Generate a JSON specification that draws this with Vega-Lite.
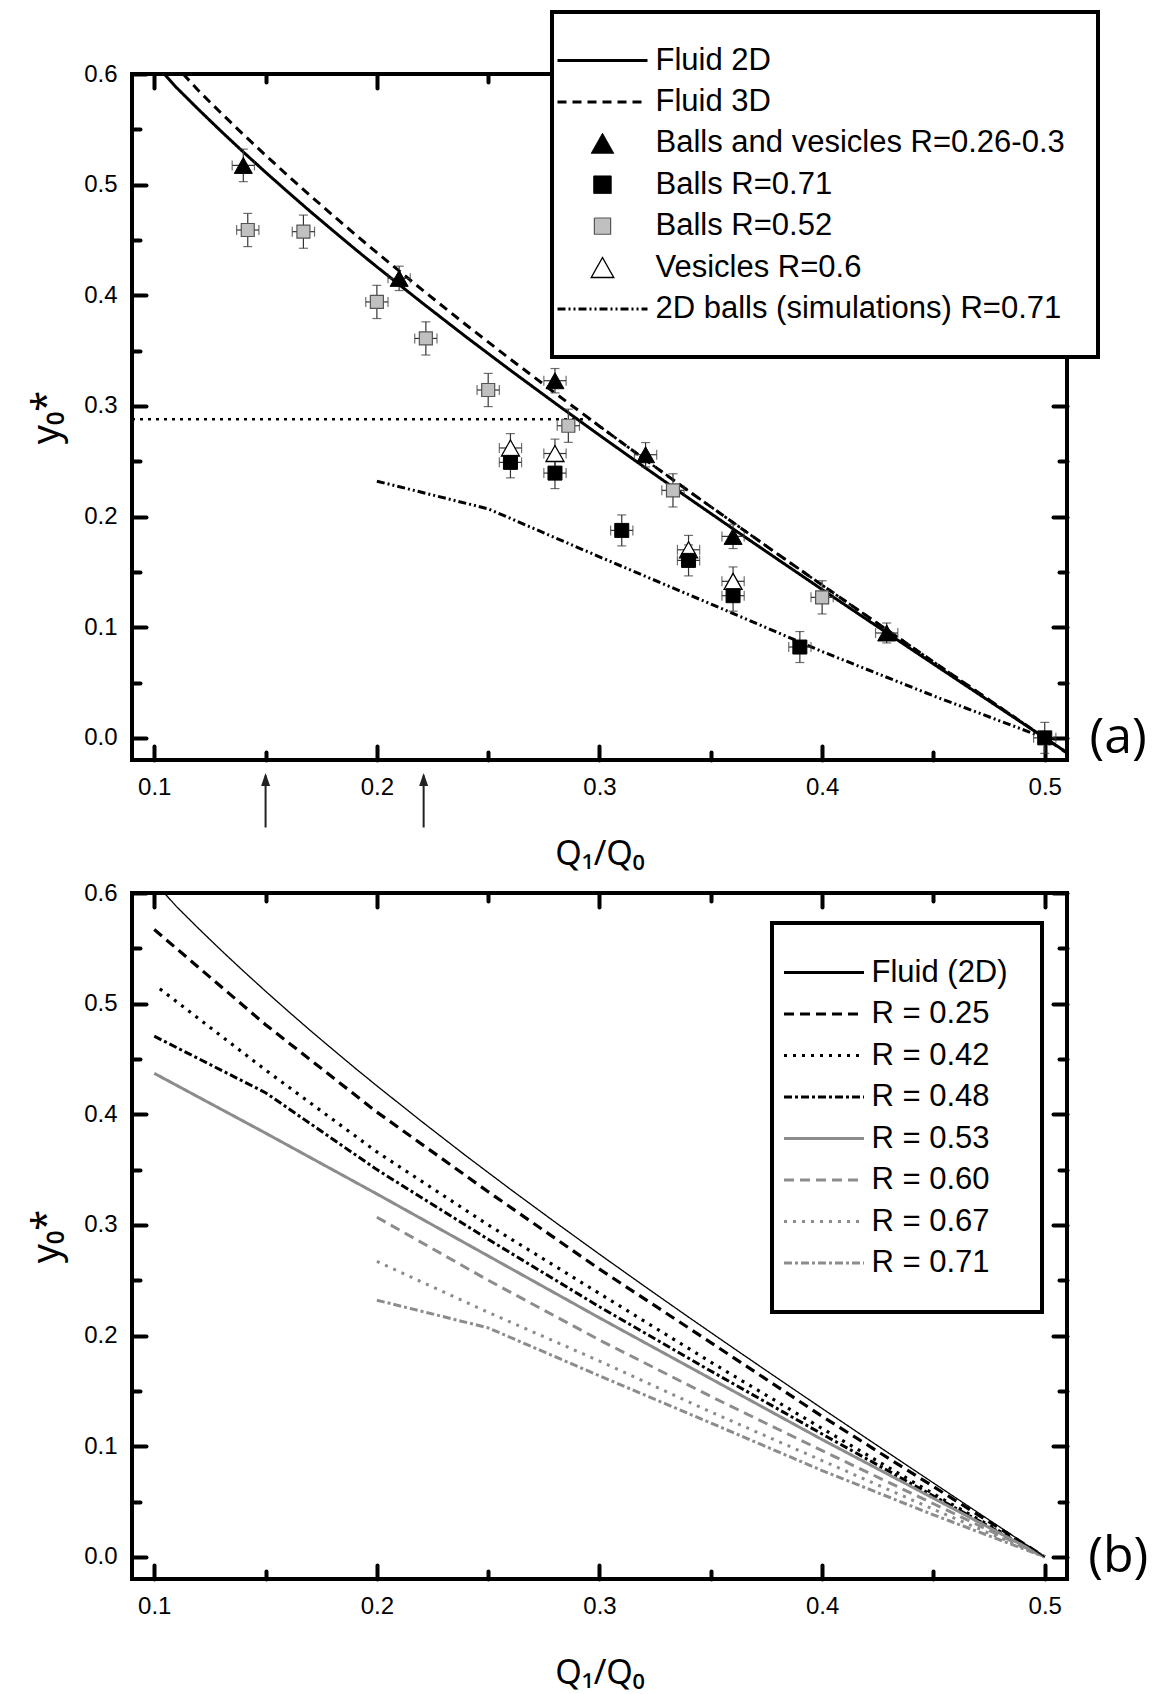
{
  "$schema": "https://vega.github.io/schema/vega-lite/v6.json",
  "background": "white",
  "padding": {"left": 26, "top": 8, "right": 0, "bottom": 0},
  "spacing": 6,
  "config": {
    "view": {"stroke": "#000000", "strokeWidth": 4},
    "axis": {"grid": false, "domain": false, "tickColor": "#000000", "tickWidth": 4, "tickCap": "round", "labelFont": "Liberation Sans", "labelFontSize": 24, "labelColor": "#000000", "titleFont": "Noto Sans", "titleFontWeight": "normal", "titleColor": "#000000", "labelFlush": false},
    "legend": {"strokeWidth": 4}
  },
  "resolve": {"scale": {"stroke": "independent", "strokeDash": "independent", "shape": "independent", "fill": "independent", "strokeWidth": "independent"}},
  "datasets": {
    "fluidA": [
      {"s": "Fluid 2D", "q": 0.1045, "y": 0.6}, {"s": "Fluid 2D", "q": 0.11, "y": 0.5877}, {"s": "Fluid 2D", "q": 0.12, "y": 0.5677}, {"s": "Fluid 2D", "q": 0.13, "y": 0.5483}, {"s": "Fluid 2D", "q": 0.14, "y": 0.5295}, {"s": "Fluid 2D", "q": 0.15, "y": 0.5112}, {"s": "Fluid 2D", "q": 0.16, "y": 0.4934}, {"s": "Fluid 2D", "q": 0.17, "y": 0.4759}, {"s": "Fluid 2D", "q": 0.18, "y": 0.4589}, {"s": "Fluid 2D", "q": 0.19, "y": 0.4421}, {"s": "Fluid 2D", "q": 0.2, "y": 0.4257}, {"s": "Fluid 2D", "q": 0.22, "y": 0.3937}, {"s": "Fluid 2D", "q": 0.24, "y": 0.3625}, {"s": "Fluid 2D", "q": 0.26, "y": 0.3322}, {"s": "Fluid 2D", "q": 0.28, "y": 0.3026}, {"s": "Fluid 2D", "q": 0.3, "y": 0.2735}, {"s": "Fluid 2D", "q": 0.32, "y": 0.2449}, {"s": "Fluid 2D", "q": 0.34, "y": 0.2167}, {"s": "Fluid 2D", "q": 0.36, "y": 0.1889}, {"s": "Fluid 2D", "q": 0.38, "y": 0.1614}, {"s": "Fluid 2D", "q": 0.4, "y": 0.1341}, {"s": "Fluid 2D", "q": 0.42, "y": 0.1071}, {"s": "Fluid 2D", "q": 0.44, "y": 0.0802}, {"s": "Fluid 2D", "q": 0.46, "y": 0.0534}, {"s": "Fluid 2D", "q": 0.48, "y": 0.0267}, {"s": "Fluid 2D", "q": 0.5, "y": 0.0}, {"s": "Fluid 2D", "q": 0.51, "y": -0.0133},
      {"s": "Fluid 3D", "q": 0.113, "y": 0.6}, {"s": "Fluid 3D", "q": 0.12, "y": 0.5847}, {"s": "Fluid 3D", "q": 0.13, "y": 0.5647}, {"s": "Fluid 3D", "q": 0.14, "y": 0.5454}, {"s": "Fluid 3D", "q": 0.15, "y": 0.5265}, {"s": "Fluid 3D", "q": 0.16, "y": 0.5082}, {"s": "Fluid 3D", "q": 0.17, "y": 0.4902}, {"s": "Fluid 3D", "q": 0.18, "y": 0.4727}, {"s": "Fluid 3D", "q": 0.19, "y": 0.4554}, {"s": "Fluid 3D", "q": 0.2, "y": 0.4385}, {"s": "Fluid 3D", "q": 0.22, "y": 0.4055}, {"s": "Fluid 3D", "q": 0.24, "y": 0.3734}, {"s": "Fluid 3D", "q": 0.26, "y": 0.3422}, {"s": "Fluid 3D", "q": 0.28, "y": 0.3117}, {"s": "Fluid 3D", "q": 0.3, "y": 0.2817}, {"s": "Fluid 3D", "q": 0.32, "y": 0.2522}, {"s": "Fluid 3D", "q": 0.34, "y": 0.2232}, {"s": "Fluid 3D", "q": 0.36, "y": 0.1946}, {"s": "Fluid 3D", "q": 0.38, "y": 0.1662}, {"s": "Fluid 3D", "q": 0.4, "y": 0.1381}, {"s": "Fluid 3D", "q": 0.42, "y": 0.1103}, {"s": "Fluid 3D", "q": 0.44, "y": 0.0826}, {"s": "Fluid 3D", "q": 0.46, "y": 0.055}, {"s": "Fluid 3D", "q": 0.48, "y": 0.0275}, {"s": "Fluid 3D", "q": 0.5, "y": 0.0}, {"s": "Fluid 3D", "q": 0.51, "y": -0.0137}
    ],
    "simA": [
      {"s": "2D balls (simulations) R=0.71", "q": 0.2, "y": 0.232}, {"s": "2D balls (simulations) R=0.71", "q": 0.25, "y": 0.207}, {"s": "2D balls (simulations) R=0.71", "q": 0.3, "y": 0.1636}, {"s": "2D balls (simulations) R=0.71", "q": 0.35, "y": 0.121}, {"s": "2D balls (simulations) R=0.71", "q": 0.4, "y": 0.078}, {"s": "2D balls (simulations) R=0.71", "q": 0.45, "y": 0.038}, {"s": "2D balls (simulations) R=0.71", "q": 0.5, "y": 0.0}
    ],
    "capA": [
      {"q": 0.09, "y": 0.288}, {"q": 0.296, "y": 0.288}, {"q": 0.3, "y": 0.2817}, {"q": 0.32, "y": 0.2522}, {"q": 0.34, "y": 0.2232}, {"q": 0.36, "y": 0.1946}, {"q": 0.38, "y": 0.1662}, {"q": 0.4, "y": 0.1381}, {"q": 0.42, "y": 0.1103}, {"q": 0.44, "y": 0.0826}, {"q": 0.46, "y": 0.055}, {"q": 0.48, "y": 0.0275}, {"q": 0.5, "y": 0.0}
    ],
    "ptsA": [
      {"s": "Vesicles R=0.6", "x": 0.26, "y": 0.262, "ex": 0.005, "ey": 0.013},
      {"s": "Vesicles R=0.6", "x": 0.28, "y": 0.257, "ex": 0.005, "ey": 0.013},
      {"s": "Vesicles R=0.6", "x": 0.34, "y": 0.17, "ex": 0.005, "ey": 0.013},
      {"s": "Vesicles R=0.6", "x": 0.36, "y": 0.1415, "ex": 0.005, "ey": 0.013},
      {"s": "Balls R=0.52", "x": 0.142, "y": 0.459, "ex": 0.005, "ey": 0.015},
      {"s": "Balls R=0.52", "x": 0.167, "y": 0.4575, "ex": 0.005, "ey": 0.015},
      {"s": "Balls R=0.52", "x": 0.2, "y": 0.394, "ex": 0.005, "ey": 0.015},
      {"s": "Balls R=0.52", "x": 0.222, "y": 0.361, "ex": 0.005, "ey": 0.015},
      {"s": "Balls R=0.52", "x": 0.25, "y": 0.3144, "ex": 0.005, "ey": 0.015},
      {"s": "Balls R=0.52", "x": 0.286, "y": 0.2821, "ex": 0.005, "ey": 0.015},
      {"s": "Balls R=0.52", "x": 0.333, "y": 0.2237, "ex": 0.005, "ey": 0.015},
      {"s": "Balls R=0.52", "x": 0.4, "y": 0.127, "ex": 0.005, "ey": 0.015},
      {"s": "Balls R=0.71", "x": 0.26, "y": 0.249, "ex": 0.005, "ey": 0.014},
      {"s": "Balls R=0.71", "x": 0.28, "y": 0.2393, "ex": 0.005, "ey": 0.014},
      {"s": "Balls R=0.71", "x": 0.31, "y": 0.1875, "ex": 0.005, "ey": 0.014},
      {"s": "Balls R=0.71", "x": 0.34, "y": 0.1604, "ex": 0.005, "ey": 0.014},
      {"s": "Balls R=0.71", "x": 0.36, "y": 0.1285, "ex": 0.005, "ey": 0.014},
      {"s": "Balls R=0.71", "x": 0.39, "y": 0.0821, "ex": 0.005, "ey": 0.014},
      {"s": "Balls R=0.71", "x": 0.5, "y": 0.0, "ex": 0.005, "ey": 0.014},
      {"s": "Balls and vesicles R=0.26-0.3", "x": 0.14, "y": 0.5174, "ex": 0.005, "ey": 0.0147},
      {"s": "Balls and vesicles R=0.26-0.3", "x": 0.21, "y": 0.4153, "ex": 0.005, "ey": 0.011},
      {"s": "Balls and vesicles R=0.26-0.3", "x": 0.28, "y": 0.3228, "ex": 0.005, "ey": 0.011},
      {"s": "Balls and vesicles R=0.26-0.3", "x": 0.3207, "y": 0.2559, "ex": 0.005, "ey": 0.011},
      {"s": "Balls and vesicles R=0.26-0.3", "x": 0.36, "y": 0.1821, "ex": 0.005, "ey": 0.011},
      {"s": "Balls and vesicles R=0.26-0.3", "x": 0.429, "y": 0.0948, "ex": 0.005, "ey": 0.009}
    ],
    "arrows": [{"q": 0.15}, {"q": 0.221}],
    "linesB": [
      {"s": "Fluid (2D)", "q": 0.1045, "y": 0.6}, {"s": "Fluid (2D)", "q": 0.11, "y": 0.5877}, {"s": "Fluid (2D)", "q": 0.12, "y": 0.5677}, {"s": "Fluid (2D)", "q": 0.13, "y": 0.5483}, {"s": "Fluid (2D)", "q": 0.14, "y": 0.5295}, {"s": "Fluid (2D)", "q": 0.15, "y": 0.5112}, {"s": "Fluid (2D)", "q": 0.16, "y": 0.4934}, {"s": "Fluid (2D)", "q": 0.17, "y": 0.4759}, {"s": "Fluid (2D)", "q": 0.18, "y": 0.4589}, {"s": "Fluid (2D)", "q": 0.19, "y": 0.4421}, {"s": "Fluid (2D)", "q": 0.2, "y": 0.4257}, {"s": "Fluid (2D)", "q": 0.22, "y": 0.3937}, {"s": "Fluid (2D)", "q": 0.24, "y": 0.3625}, {"s": "Fluid (2D)", "q": 0.26, "y": 0.3322}, {"s": "Fluid (2D)", "q": 0.28, "y": 0.3026}, {"s": "Fluid (2D)", "q": 0.3, "y": 0.2735}, {"s": "Fluid (2D)", "q": 0.32, "y": 0.2449}, {"s": "Fluid (2D)", "q": 0.34, "y": 0.2167}, {"s": "Fluid (2D)", "q": 0.36, "y": 0.1889}, {"s": "Fluid (2D)", "q": 0.38, "y": 0.1614}, {"s": "Fluid (2D)", "q": 0.4, "y": 0.1341}, {"s": "Fluid (2D)", "q": 0.42, "y": 0.1071}, {"s": "Fluid (2D)", "q": 0.44, "y": 0.0802}, {"s": "Fluid (2D)", "q": 0.46, "y": 0.0534}, {"s": "Fluid (2D)", "q": 0.48, "y": 0.0267}, {"s": "Fluid (2D)", "q": 0.5, "y": 0.0},
      {"s": "R = 0.25", "q": 0.1, "y": 0.567}, {"s": "R = 0.25", "q": 0.15, "y": 0.481}, {"s": "R = 0.25", "q": 0.2, "y": 0.402}, {"s": "R = 0.25", "q": 0.25, "y": 0.33}, {"s": "R = 0.25", "q": 0.3, "y": 0.26}, {"s": "R = 0.25", "q": 0.35, "y": 0.1937}, {"s": "R = 0.25", "q": 0.4, "y": 0.127}, {"s": "R = 0.25", "q": 0.45, "y": 0.0635}, {"s": "R = 0.25", "q": 0.5, "y": 0.0},
      {"s": "R = 0.42", "q": 0.1025, "y": 0.5134}, {"s": "R = 0.42", "q": 0.15, "y": 0.44}, {"s": "R = 0.42", "q": 0.2, "y": 0.366}, {"s": "R = 0.42", "q": 0.25, "y": 0.3}, {"s": "R = 0.42", "q": 0.3, "y": 0.238}, {"s": "R = 0.42", "q": 0.35, "y": 0.176}, {"s": "R = 0.42", "q": 0.4, "y": 0.116}, {"s": "R = 0.42", "q": 0.45, "y": 0.057}, {"s": "R = 0.42", "q": 0.5, "y": 0.0},
      {"s": "R = 0.48", "q": 0.1, "y": 0.4706}, {"s": "R = 0.48", "q": 0.15, "y": 0.4195}, {"s": "R = 0.48", "q": 0.2, "y": 0.35}, {"s": "R = 0.48", "q": 0.25, "y": 0.287}, {"s": "R = 0.48", "q": 0.3, "y": 0.226}, {"s": "R = 0.48", "q": 0.35, "y": 0.168}, {"s": "R = 0.48", "q": 0.4, "y": 0.111}, {"s": "R = 0.48", "q": 0.45, "y": 0.055}, {"s": "R = 0.48", "q": 0.5, "y": 0.0},
      {"s": "R = 0.53", "q": 0.1, "y": 0.437}, {"s": "R = 0.53", "q": 0.15, "y": 0.383}, {"s": "R = 0.53", "q": 0.2, "y": 0.328}, {"s": "R = 0.53", "q": 0.25, "y": 0.272}, {"s": "R = 0.53", "q": 0.3, "y": 0.216}, {"s": "R = 0.53", "q": 0.35, "y": 0.161}, {"s": "R = 0.53", "q": 0.4, "y": 0.106}, {"s": "R = 0.53", "q": 0.45, "y": 0.053}, {"s": "R = 0.53", "q": 0.5, "y": 0.0},
      {"s": "R = 0.60", "q": 0.2, "y": 0.307}, {"s": "R = 0.60", "q": 0.25, "y": 0.25}, {"s": "R = 0.60", "q": 0.3, "y": 0.196}, {"s": "R = 0.60", "q": 0.35, "y": 0.145}, {"s": "R = 0.60", "q": 0.4, "y": 0.096}, {"s": "R = 0.60", "q": 0.45, "y": 0.048}, {"s": "R = 0.60", "q": 0.5, "y": 0.0},
      {"s": "R = 0.67", "q": 0.2, "y": 0.267}, {"s": "R = 0.67", "q": 0.25, "y": 0.221}, {"s": "R = 0.67", "q": 0.3, "y": 0.177}, {"s": "R = 0.67", "q": 0.35, "y": 0.131}, {"s": "R = 0.67", "q": 0.4, "y": 0.087}, {"s": "R = 0.67", "q": 0.45, "y": 0.043}, {"s": "R = 0.67", "q": 0.5, "y": 0.0},
      {"s": "R = 0.71", "q": 0.2, "y": 0.232}, {"s": "R = 0.71", "q": 0.25, "y": 0.207}, {"s": "R = 0.71", "q": 0.3, "y": 0.1636}, {"s": "R = 0.71", "q": 0.35, "y": 0.121}, {"s": "R = 0.71", "q": 0.4, "y": 0.078}, {"s": "R = 0.71", "q": 0.45, "y": 0.038}, {"s": "R = 0.71", "q": 0.5, "y": 0.0}
    ]
  },
  "vconcat": [
    {
      "width": 935,
      "height": 686,
      "resolve": {"axis": {"x": "independent", "y": "independent"}},
      "layer": [
        {
          "data": {"name": "fluidA"},
          "mark": {"type": "line", "strokeCap": "butt"},
          "encoding": {
            "x": {"field": "q", "type": "quantitative", "scale": {"domain": [0.09, 0.51], "nice": false, "zero": false}, "axis": {"orient": "bottom", "values": [0.1, 0.2, 0.3, 0.4, 0.5], "format": ".1f", "tickSize": 14, "offset": -14, "labelPadding": 15, "title": "Q₁/Q₀", "titleFontSize": 34, "titlePadding": 38}},
            "y": {"field": "y", "type": "quantitative", "scale": {"domain": [-0.02, 0.6], "nice": false, "zero": false}, "axis": {"orient": "left", "values": [0, 0.1, 0.2, 0.3, 0.4, 0.5, 0.6], "format": ".1f", "tickSize": 14, "offset": -14, "labelPadding": 15, "title": "y₀*", "titleFontSize": 38, "titlePadding": 17}},
            "stroke": {"field": "s", "type": "nominal", "scale": {"domain": ["Fluid 2D", "Fluid 3D", "Balls and vesicles R=0.26-0.3", "Balls R=0.71", "Balls R=0.52", "Vesicles R=0.6", "2D balls (simulations) R=0.71"], "range": ["#000000", "#000000", "#000000", "#000000", "#555555", "#000000", "#000000"]}, "legend": {"orient": "none", "legendX": 420, "legendY": -62, "title": null, "padding": 33, "strokeColor": "#000000", "fillColor": "#ffffff", "labelFont": "Liberation Sans", "labelFontSize": 31, "labelColor": "#000000", "symbolSize": 6.25, "symbolOffset": 2, "labelOffset": 37.5, "rowPadding": 9.4, "labelLimit": 0}},
            "strokeDash": {"field": "s", "type": "nominal", "scale": {"domain": ["Fluid 2D", "Fluid 3D", "Balls and vesicles R=0.26-0.3", "Balls R=0.71", "Balls R=0.52", "Vesicles R=0.6", "2D balls (simulations) R=0.71"], "range": [[1, 0], [9, 6], [1, 0], [1, 0], [1, 0], [1, 0], [8, 3, 2, 3, 2, 3]]}},
            "strokeWidth": {"field": "s", "type": "nominal", "scale": {"type": "ordinal", "domain": ["Fluid 2D", "Fluid 3D", "Balls and vesicles R=0.26-0.3", "Balls R=0.71", "Balls R=0.52", "Vesicles R=0.6", "2D balls (simulations) R=0.71"], "range": [3, 3, 1, 1, 1.2, 1.3, 3]}}
          }
        },
        {
          "data": {"name": "simA"},
          "mark": {"type": "line", "strokeCap": "butt"},
          "encoding": {
            "x": {"field": "q", "type": "quantitative", "axis": {"orient": "bottom", "values": [0.15, 0.25, 0.35, 0.45], "tickSize": 8, "offset": -8, "labels": false, "title": null}},
            "y": {"field": "y", "type": "quantitative", "axis": {"orient": "left", "values": [0.05, 0.15, 0.25, 0.35, 0.45, 0.55], "tickSize": 8, "offset": -8, "labels": false, "title": null}},
            "stroke": {"field": "s", "type": "nominal"},
            "strokeDash": {"field": "s", "type": "nominal"},
            "strokeWidth": {"field": "s", "type": "nominal", "scale": {"type": "ordinal", "domain": ["Fluid 2D", "Fluid 3D", "Balls and vesicles R=0.26-0.3", "Balls R=0.71", "Balls R=0.52", "Vesicles R=0.6", "2D balls (simulations) R=0.71"], "range": [3, 3, 1, 1, 1.2, 1.3, 3]}}
          }
        },
        {
          "data": {"name": "capA"},
          "mark": {"type": "line", "color": "#000000", "strokeWidth": 2.6, "strokeDash": [3, 5], "strokeCap": "butt"},
          "encoding": {
            "x": {"field": "q", "type": "quantitative", "axis": {"orient": "top", "values": [0.1, 0.2, 0.3, 0.4, 0.5], "tickSize": 14, "offset": -14, "labels": false, "title": null}},
            "y": {"field": "y", "type": "quantitative", "axis": {"orient": "right", "values": [0, 0.1, 0.2, 0.3, 0.4, 0.5, 0.6], "tickSize": 14, "offset": -14, "labels": false, "title": null}}
          }
        },
        {
          "data": {"name": "ptsA"},
          "mark": {"type": "errorbar", "color": "#333333", "ticks": {"size": 9, "thickness": 1.2, "color": "#333333"}, "rule": {"strokeWidth": 1.2, "color": "#333333"}},
          "encoding": {
            "x": {"field": "x", "type": "quantitative", "axis": null},
            "y": {"field": "y", "type": "quantitative", "axis": null},
            "yError": {"field": "ey"}
          }
        },
        {
          "data": {"name": "ptsA"},
          "mark": {"type": "errorbar", "color": "#333333", "ticks": {"size": 10, "thickness": 1.2, "color": "#333333"}, "rule": {"strokeWidth": 1.2, "color": "#333333"}},
          "encoding": {
            "y": {"field": "y", "type": "quantitative", "axis": null},
            "x": {"field": "x", "type": "quantitative", "axis": null},
            "xError": {"field": "ex"}
          }
        },
        {
          "data": {"name": "ptsA"},
          "mark": {"type": "point", "size": 4, "opacity": 1},
          "encoding": {
            "x": {"field": "x", "type": "quantitative", "axis": {"orient": "top", "values": [0.15, 0.25, 0.35, 0.45], "tickSize": 8, "offset": -8, "labels": false, "title": null}},
            "y": {"field": "y", "type": "quantitative", "axis": {"orient": "right", "values": [0.05, 0.15, 0.25, 0.35, 0.45, 0.55], "tickSize": 8, "offset": -8, "labels": false, "title": null}},
            "shape": {"field": "s", "type": "nominal", "scale": {"domain": ["Fluid 2D", "Fluid 3D", "Balls and vesicles R=0.26-0.3", "Balls R=0.71", "Balls R=0.52", "Vesicles R=0.6", "2D balls (simulations) R=0.71"], "range": ["M-36,0H36", "M-36,0H36", "M0,-8L9,8H-9Z", "M-7,-7H7V7H-7Z", "M-6.5,-6.5H6.5V6.5H-6.5Z", "M0,-8L9,8H-9Z", "M-36,0H36"]}},
            "fill": {"field": "s", "type": "nominal", "scale": {"domain": ["Fluid 2D", "Fluid 3D", "Balls and vesicles R=0.26-0.3", "Balls R=0.71", "Balls R=0.52", "Vesicles R=0.6", "2D balls (simulations) R=0.71"], "range": ["transparent", "transparent", "#000000", "#000000", "#c0c0c0", "#ffffff", "transparent"]}},
            "stroke": {"field": "s", "type": "nominal"},
            "strokeWidth": {"field": "s", "type": "nominal", "scale": {"type": "ordinal", "domain": ["Fluid 2D", "Fluid 3D", "Balls and vesicles R=0.26-0.3", "Balls R=0.71", "Balls R=0.52", "Vesicles R=0.6", "2D balls (simulations) R=0.71"], "range": [3, 3, 1, 1, 1.2, 1.3, 3]}}
          }
        },
        {
          "data": {"name": "arrows"},
          "mark": {"type": "rule", "strokeWidth": 2, "color": "#222222"},
          "encoding": {
            "x": {"field": "q", "type": "quantitative", "axis": null},
            "y": {"datum": -0.034, "type": "quantitative", "axis": null},
            "y2": {"datum": -0.081}
          }
        },
        {
          "data": {"name": "arrows"},
          "mark": {"type": "point", "shape": "M0,0L4.5,13L-4.5,13Z", "size": 4, "filled": true, "color": "#222222", "opacity": 1},
          "encoding": {
            "x": {"field": "q", "type": "quantitative", "axis": null},
            "y": {"datum": -0.0317, "type": "quantitative", "axis": null}
          }
        },
        {
          "data": {"values": [{}]},
          "mark": {"type": "text", "text": "(a)", "font": "Open Sans", "fontSize": 50, "align": "center", "baseline": "middle", "color": "#000000"},
          "encoding": {
            "x": {"datum": 0.533, "type": "quantitative", "axis": null},
            "y": {"datum": 0.0, "type": "quantitative", "axis": null}
          }
        }
      ]
    },
    {
      "width": 935,
      "height": 686,
      "resolve": {"axis": {"x": "independent", "y": "independent"}},
      "layer": [
        {
          "data": {"name": "linesB"},
          "transform": [{"filter": {"field": "s", "oneOf": ["R = 0.25", "R = 0.42"]}}],
          "mark": {"type": "line", "strokeWidth": 3.2, "strokeCap": "butt"},
          "encoding": {
            "x": {"field": "q", "type": "quantitative", "scale": {"domain": [0.09, 0.51], "nice": false, "zero": false}, "axis": {"orient": "bottom", "values": [0.1, 0.2, 0.3, 0.4, 0.5], "format": ".1f", "tickSize": 14, "offset": -14, "labelPadding": 15, "title": "Q₁/Q₀", "titleFontSize": 34, "titlePadding": 38}},
            "y": {"field": "y", "type": "quantitative", "scale": {"domain": [-0.02, 0.6], "nice": false, "zero": false}, "axis": {"orient": "left", "values": [0, 0.1, 0.2, 0.3, 0.4, 0.5, 0.6], "format": ".1f", "tickSize": 14, "offset": -14, "labelPadding": 15, "title": "y₀*", "titleFontSize": 38, "titlePadding": 17}},
            "stroke": {"field": "s", "type": "nominal", "scale": {"domain": ["Fluid (2D)", "R = 0.25", "R = 0.42", "R = 0.48", "R = 0.53", "R = 0.60", "R = 0.67", "R = 0.71"], "range": ["#000000", "#000000", "#000000", "#000000", "#8c8c8c", "#8c8c8c", "#8c8c8c", "#8c8c8c"]}, "legend": {"orient": "none", "legendX": 640, "legendY": 30, "title": null, "padding": 34, "strokeColor": "#000000", "fillColor": "#ffffff", "labelFont": "Liberation Sans", "labelFontSize": 31, "labelColor": "#000000", "symbolType": "M-40,0H40", "symbolSize": 4, "symbolStrokeWidth": 3, "symbolOffset": 2.5, "labelOffset": 32, "rowPadding": 9.5, "labelLimit": 0}},
            "strokeDash": {"field": "s", "type": "nominal", "scale": {"domain": ["Fluid (2D)", "R = 0.25", "R = 0.42", "R = 0.48", "R = 0.53", "R = 0.60", "R = 0.67", "R = 0.71"], "range": [[1, 0], [10, 6], [3, 6], [8, 3, 3, 3], [1, 0], [10, 6], [3, 6], [8, 3, 3, 3]]}}
          }
        },
        {
          "data": {"name": "linesB"},
          "transform": [{"filter": {"field": "s", "oneOf": ["R = 0.48", "R = 0.53"]}}],
          "mark": {"type": "line", "strokeWidth": 3, "strokeCap": "butt"},
          "encoding": {
            "x": {"field": "q", "type": "quantitative", "axis": {"orient": "bottom", "values": [0.15, 0.25, 0.35, 0.45], "tickSize": 8, "offset": -8, "labels": false, "title": null}},
            "y": {"field": "y", "type": "quantitative", "axis": {"orient": "left", "values": [0.05, 0.15, 0.25, 0.35, 0.45, 0.55], "tickSize": 8, "offset": -8, "labels": false, "title": null}},
            "stroke": {"field": "s", "type": "nominal"},
            "strokeDash": {"field": "s", "type": "nominal"}
          }
        },
        {
          "data": {"name": "linesB"},
          "transform": [{"filter": {"field": "s", "oneOf": ["R = 0.60", "R = 0.67", "R = 0.71"]}}],
          "mark": {"type": "line", "strokeWidth": 3, "strokeCap": "butt"},
          "encoding": {
            "x": {"field": "q", "type": "quantitative", "axis": {"orient": "top", "values": [0.1, 0.2, 0.3, 0.4, 0.5], "tickSize": 14, "offset": -14, "labels": false, "title": null}},
            "y": {"field": "y", "type": "quantitative", "axis": {"orient": "right", "values": [0, 0.1, 0.2, 0.3, 0.4, 0.5, 0.6], "tickSize": 14, "offset": -14, "labels": false, "title": null}},
            "stroke": {"field": "s", "type": "nominal"},
            "strokeDash": {"field": "s", "type": "nominal"}
          }
        },
        {
          "data": {"name": "linesB"},
          "transform": [{"filter": {"field": "s", "oneOf": ["Fluid (2D)"]}}],
          "mark": {"type": "line", "strokeWidth": 1.3, "strokeCap": "butt"},
          "encoding": {
            "x": {"field": "q", "type": "quantitative", "axis": {"orient": "top", "values": [0.15, 0.25, 0.35, 0.45], "tickSize": 8, "offset": -8, "labels": false, "title": null}},
            "y": {"field": "y", "type": "quantitative", "axis": {"orient": "right", "values": [0.05, 0.15, 0.25, 0.35, 0.45, 0.55], "tickSize": 8, "offset": -8, "labels": false, "title": null}},
            "stroke": {"field": "s", "type": "nominal"},
            "strokeDash": {"field": "s", "type": "nominal"}
          }
        },
        {
          "data": {"values": [{}]},
          "mark": {"type": "text", "text": "(b)", "font": "Open Sans", "fontSize": 50, "align": "center", "baseline": "middle", "color": "#000000"},
          "encoding": {
            "x": {"datum": 0.533, "type": "quantitative", "axis": null},
            "y": {"datum": 0.0, "type": "quantitative", "axis": null}
          }
        }
      ]
    }
  ]
}
